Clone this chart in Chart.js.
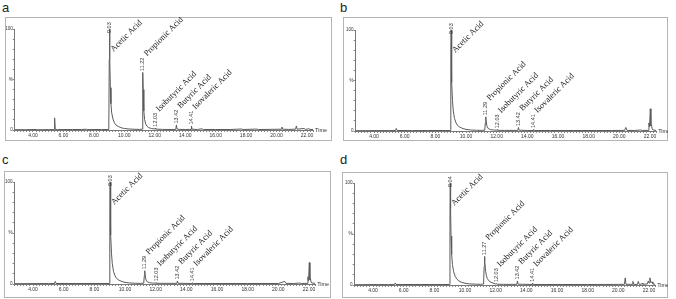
<!DOCTYPE html>
<html><head><meta charset="utf-8">
<script src="https://cdn.jsdelivr.net/npm/chart.js@4.4.1/dist/chart.umd.min.js"></script>
<style>
html,body{margin:0;padding:0;background:#fff;width:676px;height:299px;overflow:hidden;position:relative;}
canvas{position:absolute;}
.lbl{position:absolute;font-family:"Liberation Sans",Arial,sans-serif;font-size:13px;color:#222;line-height:13px;}
</style></head><body>
<div class="lbl" style="left:2px;top:1px">a</div>
<div class="lbl" style="left:340px;top:1px">b</div>
<div class="lbl" style="left:2px;top:153px">c</div>
<div class="lbl" style="left:340px;top:153px">d</div>
<canvas id="ca"></canvas>
<canvas id="cb"></canvas>
<canvas id="cc"></canvas>
<canvas id="cd"></canvas>
<script>
// ---- data ----
const compounds = ['Acetic Acid','Propionic Acid','Isobutyric Acid','Butyric Acid','Isovaleric Acid'];
const rtA = ['9.03','11.22','12.03','13.42','14.41'];
const rtB = ['9.03','11.29','12.03','13.42','14.41'];
const rtC = ['9.03','11.29','12.03','13.42','14.41'];
const rtD = ['9.04','11.27','12.03','13.42','14.41'];
const xTickValues = [4,6,8,10,12,14,16,18,20,22];
const xTickLabels = ['4.00','6.00','8.00','10.00','12.00','14.00','16.00','18.00','20.00','22.00'];
const yTickValues = [0,50,100];
const yTickLabels = ['0','%','100'];
const axisTitle = 'Time';

const traceA = [[2.8,0.3],[3.5,0.3],[4.2,0.5],[4.25,0.2],[5.0,0.4],[5.38,0.4],[5.42,12],[5.46,0.6],[5.6,0.4],[6.6,0.5],[7.2,0.5],[7.5,0.8],[7.55,0.4],[8.5,0.5],[8.98,0.5],[9.01,70],[9.03,100],[9.05,72],[9.08,42],[9.12,26],[9.17,17],[9.25,11],[9.35,7],[9.45,5],[9.6,3.5],[9.8,2.2],[10.0,1.5],[10.3,1],[10.7,0.7],[11.0,0.6],[11.17,0.8],[11.2,40],[11.22,57],[11.24,40],[11.28,19],[11.33,10.5],[11.4,6],[11.5,3.5],[11.6,2.3],[11.8,1.4],[12.0,1.0],[12.03,1.8],[12.06,0.9],[12.5,0.6],[13.0,0.5],[13.38,0.6],[13.42,5],[13.46,1],[13.6,0.6],[14.0,0.5],[14.38,0.6],[14.41,4],[14.45,0.8],[14.8,0.5],[15.1,1.2],[15.2,0.5],[16.0,0.5],[17.0,0.5],[17.7,1],[17.8,0.5],[18.7,0.9],[18.8,0.5],[19.5,0.6],[20.3,0.8],[20.35,3],[20.4,0.8],[20.8,0.6],[21.25,0.8],[21.3,4],[21.35,0.8],[21.8,1.5],[21.9,0.6],[22.1,1.2],[22.2,0.6],[22.4,0.5]];
const traceB = [[2.8,0.3],[4.0,0.4],[5.0,0.4],[5.4,0.5],[5.45,2.5],[5.5,0.5],[6.5,0.4],[7.5,0.5],[8.5,0.5],[8.98,0.5],[9.01,70],[9.03,100],[9.05,75],[9.08,48],[9.12,30],[9.17,20],[9.25,12.5],[9.35,8],[9.45,5.5],[9.6,3.8],[9.8,2.4],[10.0,1.6],[10.3,1.0],[10.7,0.7],[11.0,0.6],[11.22,0.8],[11.26,8],[11.29,14],[11.32,9],[11.37,4.5],[11.45,2.4],[11.6,1.4],[11.8,1.0],[12.0,0.8],[12.03,1.3],[12.06,0.7],[12.5,0.6],[13.38,0.6],[13.42,3.5],[13.46,0.8],[14.0,0.5],[14.38,0.5],[14.41,1.5],[14.45,0.5],[15.5,0.5],[17,0.5],[18.5,0.5],[19.5,0.5],[20.35,0.6],[20.42,3.5],[20.5,0.6],[21.0,0.5],[21.4,1],[21.5,0.5],[21.88,0.6],[21.93,8],[21.97,4],[22.02,22],[22.06,5],[22.1,6],[22.14,2],[22.2,1],[22.4,0.6]];
const traceC = [[2.8,0.3],[4.0,0.4],[5.0,0.4],[5.4,0.5],[5.45,2.5],[5.5,0.5],[7.0,0.5],[8.5,0.5],[8.98,0.5],[9.01,70],[9.03,100],[9.05,75],[9.08,48],[9.12,30],[9.17,20],[9.25,12.5],[9.35,8],[9.45,5.5],[9.6,3.8],[9.8,2.4],[10.0,1.6],[10.3,1.0],[10.7,0.7],[11.0,0.6],[11.22,0.8],[11.26,8],[11.29,13],[11.32,8],[11.37,4],[11.45,2.2],[11.6,1.3],[11.8,0.9],[12.0,0.8],[12.03,1.2],[12.06,0.7],[13.38,0.6],[13.42,3],[13.46,0.7],[14.38,0.5],[14.41,1.3],[14.45,0.5],[16,0.5],[18,0.5],[20.0,0.5],[20.42,2.5],[20.5,0.6],[21.0,0.5],[21.4,0.9],[21.5,0.5],[21.88,0.6],[21.93,7],[21.97,3],[22.02,21],[22.06,4],[22.1,5],[22.14,1.5],[22.2,1],[22.4,0.6]];
const traceD = [[2.8,0.3],[4.0,0.4],[5.0,0.4],[5.4,0.5],[5.45,2],[5.5,0.5],[7.0,0.5],[8.5,0.5],[8.99,0.5],[9.02,70],[9.04,100],[9.06,75],[9.09,48],[9.13,30],[9.18,20],[9.26,13],[9.36,8.5],[9.46,6],[9.6,4],[9.8,2.5],[10.0,1.7],[10.3,1.1],[10.7,0.8],[11.0,0.7],[11.21,0.9],[11.25,18],[11.27,28],[11.3,22],[11.35,13],[11.4,9],[11.45,6.5],[11.55,4.2],[11.7,2.6],[11.9,1.5],[12.0,1.1],[12.03,1.4],[12.1,0.8],[12.5,0.6],[13.38,0.6],[13.42,4],[13.46,0.8],[14.38,0.5],[14.41,1.8],[14.45,0.5],[16,0.5],[18,0.5],[20.0,0.6],[20.4,0.7],[20.45,7],[20.5,0.7],[20.9,0.6],[20.95,3.5],[21.0,0.6],[21.25,0.6],[21.3,3.5],[21.35,0.7],[21.5,0.7],[21.55,1.8],[21.6,0.7],[21.9,1],[21.95,4],[22.0,2],[22.06,7],[22.12,2.5],[22.2,3],[22.25,1],[22.4,0.6]];

// ---- layout (absolute px) ----
const X_MIN = 2.8, X_MAX = 22.4;
const panels = [
  {id:'ca', box:[5,17,327,124], x4:33, x22:307, top:29, bottom:130, trace:traceA, rts:rtA},
  {id:'cb', box:[343,17,325,124], x4:374, x22:650, top:30, bottom:131, trace:traceB, rts:rtB},
  {id:'cc', box:[4,171,327,127], x4:33, x22:309, top:182, bottom:284, trace:traceC, rts:rtC},
  {id:'cd', box:[342,172,326,126], x4:373, x22:649, top:183, bottom:285, trace:traceD, rts:rtD}
];

function makeAnnot(p){
  return {id:'annot'+p.id, afterDatasetsDraw(chart){
    const {ctx, chartArea:ca, scales:{x,y}} = chart;
    const W = chart.width, H = chart.height;
    ctx.save();
    ctx.strokeStyle = '#b4b4b4'; ctx.lineWidth = 1;
    ctx.strokeRect(0.5,0.5,W-1,H-1);
    ctx.fillStyle = '#333';
    ctx.font = '5.5px "Liberation Sans", Arial, sans-serif';
    ctx.textAlign = 'left'; ctx.textBaseline = 'middle';
    ctx.fillText(axisTitle, ca.right + 2, ca.bottom);
    p.rts.forEach((rt, i) => {
      const t = parseFloat(rt);
      let h = 0;
      p.trace.forEach(pt => { if (Math.abs(pt[0]-t) < 0.06 && pt[1] > h) h = pt[1]; });
      const px = x.getPixelForValue(t), py = y.getPixelForValue(h);
      const bottomY = Math.max(py - 1.5, ca.top + 4);
      ctx.font = '5.5px "Liberation Sans", Arial, sans-serif';
      const tw = ctx.measureText(rt).width;
      ctx.save();
      ctx.translate(px, bottomY); ctx.rotate(-Math.PI/2);
      ctx.textAlign = 'left'; ctx.textBaseline = 'middle';
      ctx.fillStyle = '#333';
      ctx.fillText(rt, 0, 0);
      ctx.restore();
      const labelTop = bottomY - tw;
      const ny = Math.max(labelTop - 1, ca.top + 23);
      ctx.save();
      ctx.translate(px + 4, ny); ctx.rotate(-Math.PI/4);
      ctx.font = '8.5px "Liberation Serif", "Times New Roman", serif';
      ctx.fillStyle = '#222';
      ctx.textAlign = 'left'; ctx.textBaseline = 'alphabetic';
      ctx.fillText(compounds[i], 0, 0);
      ctx.restore();
    });
    ctx.restore();
  }};
}

panels.forEach(p => {
  const [bl, bt, bw, bh] = p.box;
  const ppu = (p.x22 - p.x4) / 18;
  const chartLeft = p.x4 - (4 - X_MIN) * ppu;
  const chartRight = p.x22 + (X_MAX - 22) * ppu;
  const yW = chartLeft - bl, padTop = p.top - bt, xH = bt + bh - p.bottom, padRight = bl + bw - chartRight;
  const cv = document.getElementById(p.id);
  cv.style.left = bl + 'px'; cv.style.top = bt + 'px';
  cv.width = bw; cv.height = bh;
  const xFont = {size:5, family:'"Liberation Sans", Arial, sans-serif'};
  const yFont = {size:4.5, family:'"Liberation Sans", Arial, sans-serif'};
  new Chart(cv, {
    type:'line',
    data:{datasets:[{data:p.trace.map(q => ({x:q[0], y:q[1]})), borderColor:'#5a5a5a', borderWidth:1, pointRadius:0, tension:0, fill:false, clip:false}]},
    options:{
      responsive:false, animation:false, events:[], devicePixelRatio:1,
      layout:{padding:{left:0, top:padTop, right:padRight, bottom:0}},
      plugins:{legend:{display:false}, tooltip:{enabled:false}},
      scales:{
        x:{type:'linear', min:X_MIN, max:X_MAX,
           afterFit(s){ s.height = xH; },
           ticks:{stepSize:0.2, autoSkip:false, maxRotation:0, minRotation:0, includeBounds:false, padding:1, color:'#333', font:xFont,
             callback(v){ const i = xTickValues.findIndex(t => Math.abs(t - v) < 1e-6); return i >= 0 ? xTickLabels[i] : ''; }},
           grid:{drawOnChartArea:false, tickLength:2, color:'#888'},
           border:{color:'#777', width:1}},
        y:{min:0, max:100,
           afterFit(s){ s.width = yW; },
           ticks:{stepSize:10, autoSkip:false, padding:0, color:'#333', font:yFont,
             callback(v){ const i = yTickValues.findIndex(t => Math.abs(t - v) < 1e-6); return i >= 0 ? yTickLabels[i] : ''; }},
           grid:{drawOnChartArea:false, tickLength:2, color:'#888'},
           border:{color:'#777', width:1}}
      }
    },
    plugins:[makeAnnot(p)]
  });
});
</script>
</body></html>
